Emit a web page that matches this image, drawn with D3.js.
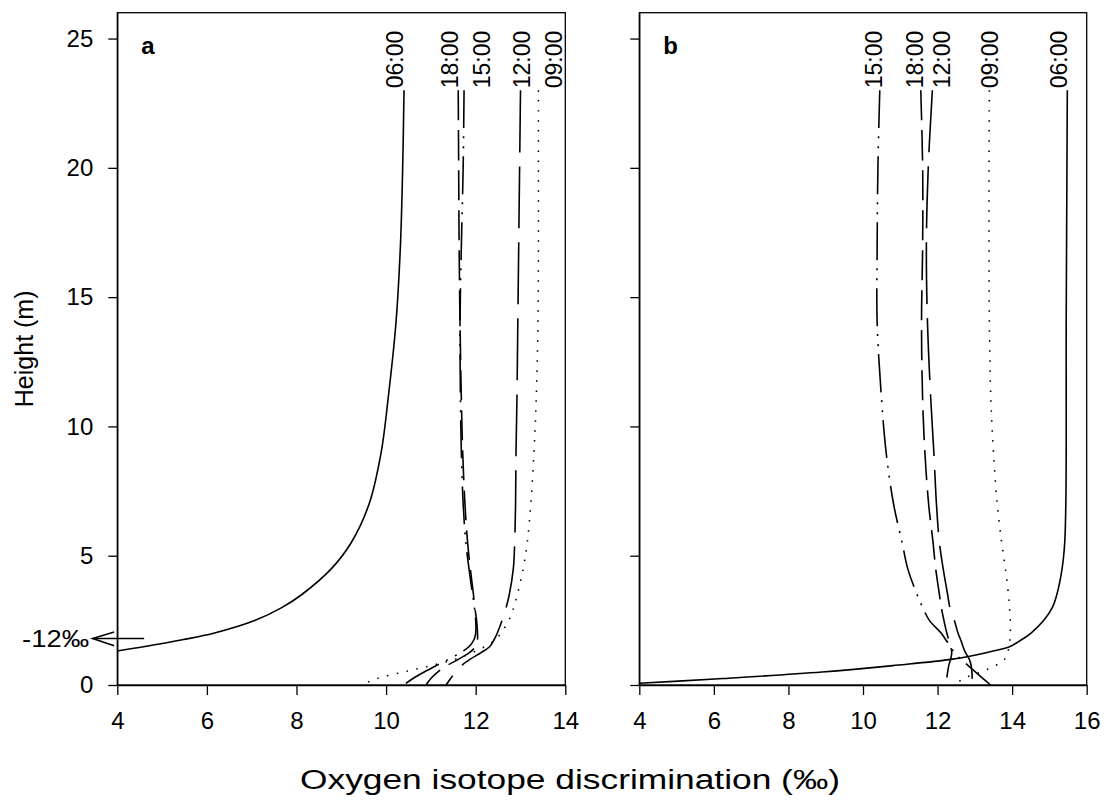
<!DOCTYPE html>
<html>
<head>
<meta charset="utf-8">
<script src="https://cdn.jsdelivr.net/npm/d3@7"></script>
<style>
  body { margin: 0; background: #fff; }
  svg text { font-family: Arial, 'Liberation Sans', sans-serif; fill: #000; }
</style>
</head>
<body>
<div class="content"></div>
<script>
// heights (m) shared by every profile
var heights = [23, 20, 17, 14, 11, 9, 7, 5.5, 4.5, 3.5, 3, 2.5, 2, 1.75, 1.5, 1.25, 1, 0.75, 0.5, 0.25, 0]

// panel a, discrimination (permil)
var a0600 = [10.40, 10.37, 10.32, 10.22, 10.04, 9.89, 9.62, 9.22, 8.78, 8.12, 7.68, 7.08, 6.15, 5.45, 4.65, 3.75, null, null, null, null, null]
var a0900 = [13.40, 13.40, 13.40, 13.39, 13.35, 13.30, 13.23, 13.15, 13.06, 12.93, 12.85, 12.74, 12.56, 12.44, 12.22, 11.92, 11.55, 11.00, 10.38, 9.80, 9.45]
var a1200 = [13.00, 12.98, 12.96, 12.94, 12.92, 12.90, 12.89, 12.87, 12.84, 12.75, 12.68, 12.59, 12.48, 12.41, 12.32, 12.12, 11.88, 11.68, 11.55, 11.44, 11.34]
var a1500 = [11.74, 11.72, 11.68, 11.65, 11.66, 11.68, 11.72, 11.78, 11.85, 11.93, 11.97, 12.00, 12.00, 11.96, 11.86, 11.66, 11.40, 11.12, 10.85, 10.60, 10.39]
var a1800 = [11.61, 11.62, 11.63, 11.65, 11.68, 11.71, 11.76, 11.82, 11.88, 11.95, 11.98, 12.02, 12.04, 12.04, 12.00, 11.86, 11.62, 11.36, 11.15, 11.00, 10.89]

// panel b
var b0600 = [15.48, 15.47, 15.46, 15.45, 15.45, 15.45, 15.44, 15.41, 15.34, 15.20, 15.08, 14.85, 14.50, 14.25, 13.96, 13.30, 12.40, 10.80, 8.90, 6.25, 3.10]
var b0900 = [13.39, 13.38, 13.38, 13.39, 13.43, 13.50, 13.60, 13.72, 13.82, 13.90, 13.93, 13.95, 13.95, 13.94, 13.92, 13.88, 13.80, 13.55, 13.15, 12.70, 12.45]
var b1200 = [11.86, 11.75, 11.70, 11.73, 11.82, 11.90, 11.97, 12.05, 12.15, 12.27, 12.33, 12.45, 12.55, 12.62, 12.68, 12.75, 12.85, 12.90, 12.92, 12.93, 12.93]
var b1500 = [10.45, 10.40, 10.38, 10.38, 10.50, 10.62, 10.82, 11.05, 11.20, 11.45, 11.60, 11.78, 12.10, 12.22, 12.35, 12.45, 12.62, 12.82, 13.02, 13.22, 13.42]
var b1800 = [11.55, 11.60, 11.60, 11.57, 11.60, 11.66, 11.76, 11.88, 11.95, 12.05, 12.10, 12.17, 12.25, 12.30, 12.35, 12.38, 12.35, 12.30, 12.27, 12.25, 12.27]

var times = ['06:00', '09:00', '12:00', '15:00', '18:00']
// where each time label sits (x value at its baseline)
var labelPosA = [10.38, 13.92, 13.21, 12.32, 11.60]
var labelPosB = [15.48, 13.63, 12.34, 10.50, 11.62]

var dashes = {
    '06:00': null,
    '09:00': '1.5,8.5',
    '12:00': '62,14',
    '15:00': '38,8,2,8,2,8',
    '18:00': '30,10'
}

var yTicks = [0, 5, 10, 15, 20, 25]
var xTicksA = [4, 6, 8, 10, 12, 14]
var xTicksB = [4, 6, 8, 10, 12, 14, 16]

var width = 1111
var height = 801

var svg = d3.select('.content').append('svg')
    .attr('width', width)
    .attr('height', height)

var y = d3.scaleLinear()
    .domain([0, 26])
    .range([685, 12.7])

var panels = [
    { id: 'a', range: [117.3, 565.3], domain: [4, 14], ticks: xTicksA, labels: true,
      series: [a0600, a0900, a1200, a1500, a1800], labelPos: labelPosA },
    { id: 'b', range: [639.3, 1086.7], domain: [4, 16], ticks: xTicksB, labels: false,
      series: [b0600, b0900, b1200, b1500, b1800], labelPos: labelPosB }
]

panels.forEach(function(p) {
    var x = d3.scaleLinear().domain(p.domain).range(p.range)
    p.x = x
    var g = svg.append('g').attr('class', 'panel-' + p.id)

    g.append('clipPath')
        .attr('id', 'clip-' + p.id)
        .append('rect')
        .attr('x', p.range[0])
        .attr('y', y(26))
        .attr('width', p.range[1] - p.range[0])
        .attr('height', y(0) - y(26))

    // axes
    g.append('g')
        .attr('transform', 'translate(0,' + y(0) + ')')
        .call(d3.axisBottom(x).tickValues(p.ticks).tickSize(10).tickSizeOuter(0).tickPadding(17))
    g.append('g')
        .attr('transform', 'translate(' + p.range[0] + ',0)')
        .call(d3.axisLeft(y).tickValues(yTicks).tickSize(9).tickSizeOuter(0).tickPadding(15)
            .tickFormat(p.labels ? d3.format('d') : ''))
    g.selectAll('.tick text').style('font-size', '24px').style('font-family', "Arial, 'Liberation Sans', sans-serif")
    g.selectAll('.domain, .tick line').attr('stroke', '#000').attr('stroke-width', 1.3)

    g.append('rect')
        .attr('x', p.range[0])
        .attr('y', y(26))
        .attr('width', p.range[1] - p.range[0])
        .attr('height', y(0) - y(26))
        .attr('fill', 'none')
        .attr('stroke', '#000')
        .attr('stroke-width', 1.3)

    var line = d3.line()
        .defined(function(d) { return d[0] !== null })
        .x(function(d) { return x(d[0]) })
        .y(function(d) { return y(d[1]) })
        .curve(d3.curveCatmullRom.alpha(0.5))

    var lines = g.append('g').attr('clip-path', 'url(#clip-' + p.id + ')')
    p.series.forEach(function(vals, i) {
        var pts = vals.map(function(v, j) { return [v, heights[j]] })
        lines.append('path')
            .datum(pts)
            .attr('d', line)
            .attr('fill', 'none')
            .attr('stroke', '#000')
            .attr('stroke-width', 1.6)
            .attr('stroke-dasharray', dashes[times[i]])
    })

    // time labels
    times.forEach(function(t, i) {
        g.append('text')
            .attr('transform', 'translate(' + x(p.labelPos[i]) + ',' + (y(23) - 2) + ') rotate(-90)')
            .style('font-size', '23px')
            .text(t)
    })

    g.append('text')
        .attr('x', x(p.domain[0]) + 24)
        .attr('y', y(25) + 15)
        .style('font-size', '24px')
        .style('font-weight', 'bold')
        .text(p.id)
})

// -12 permil arrow on panel a
var xa = panels[0].x
svg.append('line')
    .attr('x1', xa(4.6)).attr('y1', y(1.8))
    .attr('x2', xa(3.45)).attr('y2', y(1.8))
    .attr('stroke', '#000').attr('stroke-width', 1.6)
svg.append('path')
    .attr('d', d3.line()([[xa(3.93), y(2.05)], [xa(3.45), y(1.8)], [xa(3.93), y(1.52)]]))
    .attr('fill', 'none').attr('stroke', '#000').attr('stroke-width', 1.6)
svg.append('text')
    .attr('x', xa(3.37))
    .attr('y', y(1.8) + 9)
    .attr('text-anchor', 'end')
    .attr('textLength', 67)
    .attr('lengthAdjust', 'spacingAndGlyphs')
    .style('font-size', '23px')
    .text('-12\u2030')

// axis titles
svg.append('text')
    .attr('x', 570)
    .attr('y', 789)
    .attr('text-anchor', 'middle')
    .attr('textLength', 540)
    .attr('lengthAdjust', 'spacingAndGlyphs')
    .style('font-size', '27px')
    .text('Oxygen isotope discrimination (\u2030)')

svg.append('text')
    .attr('transform', 'translate(33,' + y(13) + ') rotate(-90)')
    .attr('text-anchor', 'middle')
    .style('font-size', '25px')
    .text('Height (m)')
</script>
</body>
</html>
